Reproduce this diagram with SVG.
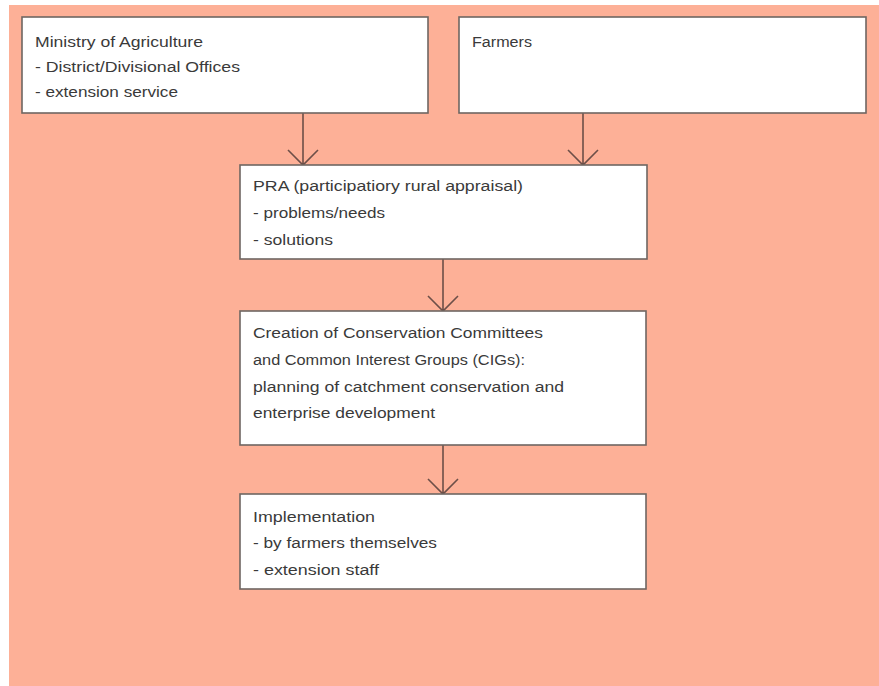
<svg xmlns="http://www.w3.org/2000/svg" width="879" height="686" viewBox="0 0 879 686">
<style>
.bg{fill:#fdb097}
.box{fill:#ffffff;stroke:#6e6662;stroke-width:1.6}
.t{font-family:"Liberation Sans",Arial,sans-serif;font-size:15.5px;fill:#3a3a3a}
.c{fill:none;stroke:#6d4f48;stroke-width:1.6}
</style>
<rect x="0" y="0" width="879" height="686" fill="#ffffff"/>
<rect class="bg" x="9" y="5" width="870" height="681"/>
<g id="connectors">
<path class="c" d="M303 113V165M288 150L303 165L318 150"/>
<path class="c" d="M583 113V165M568 150L583 165L598 150"/>
<path class="c" d="M443 259V311M428 296L443 311L458 296"/>
<path class="c" d="M443 445V494M428 479L443 494L458 479"/>
</g>
<g id="ministry">
<rect class="box" x="22" y="17" width="406" height="96"/>
<text class="t" x="35" y="47" textLength="168" lengthAdjust="spacingAndGlyphs">Ministry of Agriculture</text>
<text class="t" x="35" y="72" textLength="205" lengthAdjust="spacingAndGlyphs">- District/Divisional Offices</text>
<text class="t" x="35" y="97" textLength="143" lengthAdjust="spacingAndGlyphs">- extension service</text>
</g>
<g id="farmers">
<rect class="box" x="459" y="17" width="407" height="96"/>
<text class="t" x="472" y="47" textLength="60" lengthAdjust="spacingAndGlyphs">Farmers</text>
</g>
<g id="pra">
<rect class="box" x="240" y="165" width="407" height="94"/>
<text class="t" x="253" y="191" textLength="270" lengthAdjust="spacingAndGlyphs">PRA (participatiory rural appraisal)</text>
<text class="t" x="253" y="218" textLength="132" lengthAdjust="spacingAndGlyphs">- problems/needs</text>
<text class="t" x="253" y="245" textLength="80" lengthAdjust="spacingAndGlyphs">- solutions</text>
</g>
<g id="creation">
<rect class="box" x="240" y="311" width="406" height="134"/>
<text class="t" x="253" y="338" textLength="290" lengthAdjust="spacingAndGlyphs">Creation of Conservation Committees</text>
<text class="t" x="253" y="365" textLength="272" lengthAdjust="spacingAndGlyphs">and Common Interest Groups (CIGs):</text>
<text class="t" x="253" y="392" textLength="311" lengthAdjust="spacingAndGlyphs">planning of catchment conservation and</text>
<text class="t" x="253" y="418" textLength="182" lengthAdjust="spacingAndGlyphs">enterprise development</text>
</g>
<g id="implementation">
<rect class="box" x="240" y="494" width="406" height="95"/>
<text class="t" x="253" y="522" textLength="122" lengthAdjust="spacingAndGlyphs">Implementation</text>
<text class="t" x="253" y="548" textLength="184" lengthAdjust="spacingAndGlyphs">- by farmers themselves</text>
<text class="t" x="253" y="575" textLength="126" lengthAdjust="spacingAndGlyphs">- extension staff</text>
</g>
</svg>
